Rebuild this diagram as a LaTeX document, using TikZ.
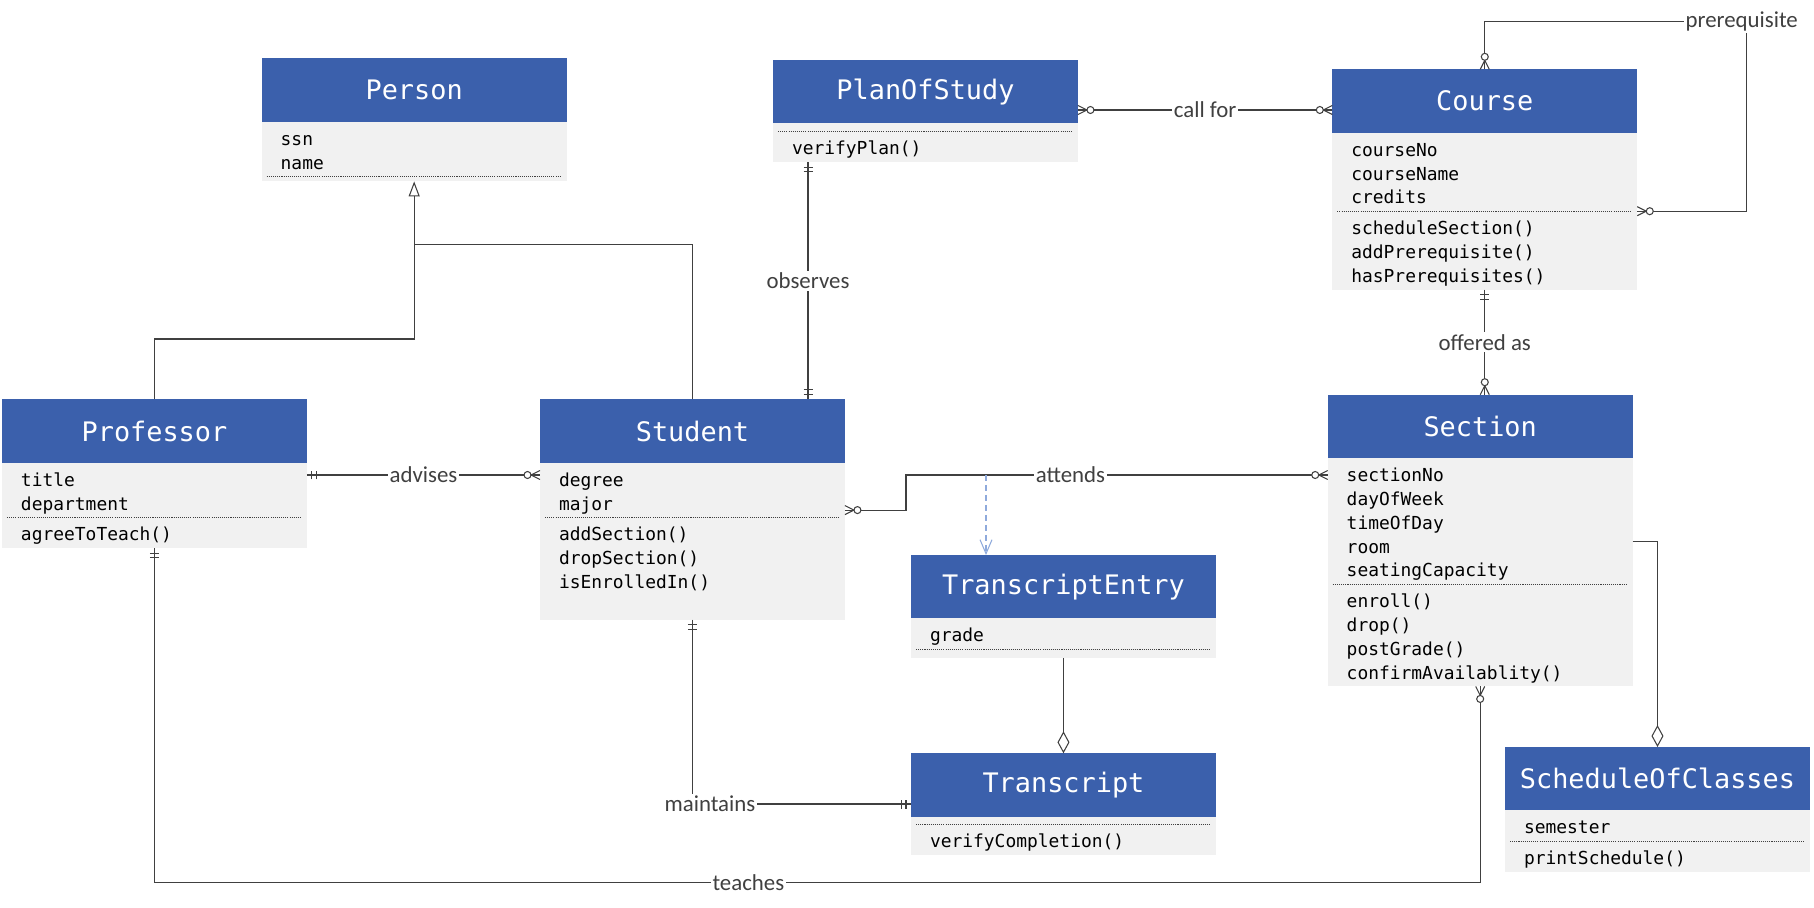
\documentclass[tikz,border=0pt]{standalone}
\usepackage{fontspec}
\usepackage{tikz}
\usetikzlibrary{positioning, arrows.meta, decorations.markings}
\newfontfamily\umlfont{DejaVu Sans Mono}
\newfontfamily\linkfont{Carlito}
\definecolor{headblue}{RGB}{59,96,172}
\definecolor{bodygray}{RGB}{241,241,241}
\definecolor{linkgray}{RGB}{64,64,64}
\definecolor{assocblue}{RGB}{143,170,220}
\newcommand{\bodystrut}{\rule[-2.2pt]{0pt}{13.55pt}}

\begin{document}
\begin{tikzpicture}[
        x=0.02cm, y=-0.02cm,
        every node/.style={outer sep=0pt},
        classhead/.style={anchor=north west, fill=headblue, text=white, minimum width=6.1cm, minimum height=1.27cm, inner sep=0pt, font=\umlfont\fontsize{15.3}{18}\selectfont},
        classpart/.style={fill=bodygray, text width=5.34cm, inner xsep=0.38cm, inner ysep=0.07cm, align=left, font=\umlfont\fontsize{10.2}{13.55}\selectfont, execute at begin node=\bodystrut, execute at end node=\bodystrut},
        classstub/.style={fill=bodygray, minimum width=6.1cm, minimum height=#1, inner sep=0pt},
        divider/.style={black!75, line width=0.5pt, dash pattern=on 0.6pt off 0.6pt},
        conn/.style={draw=linkgray, line width=0.6pt},
        assocline/.style={draw=assocblue, line width=0.6pt, dash pattern=on 0.12cm off 0.08cm},
        verb/.style={fill=white, text=linkgray, inner sep=1pt, font=\linkfont\fontsize{13}{15}\selectfont},
        one start/.style={postaction={decorate, decoration={markings,
            mark=at position 0.1cm with {\draw[conn] (0pt,-0.09cm) -- (0pt,0.09cm);},
            mark=at position 0.19cm with {\draw[conn] (0pt,-0.09cm) -- (0pt,0.09cm);}}}},
        one end/.style={postaction={decorate, decoration={markings,
            mark=at position -0.19cm with {\draw[conn] (0pt,-0.09cm) -- (0pt,0.09cm);},
            mark=at position -0.1cm with {\draw[conn] (0pt,-0.09cm) -- (0pt,0.09cm);}}}},
        many start/.style={postaction={decorate, decoration={markings,
            mark=at position 0.18cm with {\draw[conn] (-0.18cm,0.09cm) -- (0pt,0pt) -- (-0.18cm,-0.09cm);
                \draw[conn, fill=white] (0.07cm,0pt) circle[radius=0.07cm];}}}},
        many end/.style={postaction={decorate, decoration={markings,
            mark=at position -0.18cm with {\draw[conn] (0.18cm,0.09cm) -- (0pt,0pt) -- (0.18cm,-0.09cm);
                \draw[conn, fill=white] (-0.07cm,0pt) circle[radius=0.07cm];}}}}
        ]
        \path[use as bounding box, fill=white] (0,0) rectangle (1814,908);

        % Classes
        \node[classhead] (person) at (261.7,58.3) {Person};
        \node[classpart, below=0pt of person] (person-a) {ssn\\name};
        \node[classstub=0.1cm, below=0pt of person-a] (person-o) {};

        \node[classhead] (plan) at (773,60) {PlanOfStudy};
        \node[classstub=0.16cm, below=0pt of plan] (plan-a) {};
        \node[classpart, below=0pt of plan-a] (plan-o) {verifyPlan()};

        \node[classhead] (course) at (1332.3,69.3) {Course};
        \node[classpart, below=0pt of course] (course-a) {courseNo\\courseName\\credits};
        \node[classpart, below=0pt of course-a] (course-o) {scheduleSection()\\addPrerequisite()\\hasPrerequisites()};

        \node[classhead] (prof) at (2,399.3) {Professor};
        \node[classpart, below=0pt of prof] (prof-a) {title\\department};
        \node[classpart, below=0pt of prof-a] (prof-o) {agreeToTeach()};

        \node[classhead] (student) at (540,399.3) {Student};
        \node[classpart, below=0pt of student] (student-a) {degree\\major};
        \node[classpart, below=0pt of student-a] (student-o) {addSection()\\dropSection()\\isEnrolledIn()\\ \mbox{}};

        \node[classhead] (section) at (1327.7,394.7) {Section};
        \node[classpart, below=0pt of section] (section-a) {sectionNo\\dayOfWeek\\timeOfDay\\room\\seatingCapacity};
        \node[classpart, below=0pt of section-a] (section-o) {enroll()\\drop()\\postGrade()\\confirmAvailablity()};

        \node[classhead] (te) at (911,555) {TranscriptEntry};
        \node[classpart, below=0pt of te] (te-a) {grade};
        \node[classstub=0.17cm, below=0pt of te-a] (te-o) {};

        \node[classhead] (trans) at (911,753.3) {Transcript};
        \node[classstub=0.15cm, below=0pt of trans] (trans-a) {};
        \node[classpart, below=0pt of trans-a] (trans-o) {verifyCompletion()};

        \node[classhead] (sched) at (1505,747) {ScheduleOfClasses};
        \node[classpart, below=0pt of sched] (sched-a) {semester};
        \node[classpart, below=0pt of sched-a] (sched-o) {printSchedule()};

        % Dividers
        \draw[divider] ([xshift=0.1cm]person-a.south west) -- ([xshift=-0.1cm]person-a.south east);
        \draw[divider] ([xshift=0.1cm]plan-a.south west) -- ([xshift=-0.1cm]plan-a.south east);
        \draw[divider] ([xshift=0.1cm]course-a.south west) -- ([xshift=-0.1cm]course-a.south east);
        \draw[divider] ([xshift=0.1cm]prof-a.south west) -- ([xshift=-0.1cm]prof-a.south east);
        \draw[divider] ([xshift=0.1cm]student-a.south west) -- ([xshift=-0.1cm]student-a.south east);
        \draw[divider] ([xshift=0.1cm]section-a.south west) -- ([xshift=-0.1cm]section-a.south east);
        \draw[divider] ([xshift=0.1cm]te-a.south west) -- ([xshift=-0.1cm]te-a.south east);
        \draw[divider] ([xshift=0.1cm]trans-a.south west) -- ([xshift=-0.1cm]trans-a.south east);
        \draw[divider] ([xshift=0.1cm]sched-a.south west) -- ([xshift=-0.1cm]sched-a.south east);

        % Generalization
        \coordinate (isaprof) at (0,339);
        \coordinate (isastud) at (0,244.3);
        \draw[conn, -{Triangle[open, length=0.3cm, width=0.22cm]}] (prof.north) -- (prof.north |- isaprof) -| (person-o.south);
        \draw[conn] (student.north) |- (person-o.south |- isastud);

        % Associations
        \coordinate (obs) at (808,0);
        \draw[conn, one start, one end] (plan-o.south -| obs) -- node[verb]{observes} (student.north -| obs);

        \coordinate (callfor) at (0,110);
        \draw[conn, many start, many end] (plan.east |- callfor) -- node[verb]{call for} (course.west |- callfor);

        \coordinate (prereq) at (1746.7,21.7);
        \draw[conn, many start, many end] (course.north) |- (prereq) node[verb, xshift=-0.1cm]{prerequisite} |- (course-a.south east);

        \draw[conn, one start, many end] (course-o.south) -- node[verb]{offered as} (course-o.south |- section.north);

        \coordinate (adv) at (0,475);
        \draw[conn, one start, many end] (prof-a.east |- adv) -- node[verb]{advises} (student-a.west |- adv);

        \coordinate (attbend) at (906,475);
        \draw[conn, many start, many end] ([yshift=-0.4cm]student-a.east) -| (attbend) -- node[verb, pos=0.39]{attends} (section-a.west |- attbend);

        \coordinate (assoc) at (986,475);
        \draw[assocline, -{Straight Barb[length=0.28cm, width=0.24cm]}] (assoc) -- (assoc |- te.north);

        \coordinate (mnt) at (0,804);
        \draw[conn, one start, one end] (student-o.south) |- node[verb, xshift=0.35cm]{maintains} (trans.west |- mnt);

        \coordinate (tch) at (0,882.5);
        \draw[conn, one start, many end] (prof-o.south) -- (prof-o.south |- tch) -| node[verb, pos=0.224]{teaches} (section-o.south);

        % Aggregations
        \draw[conn, -{Diamond[open, length=0.44cm, width=0.24cm]}] (te-o.south) -- (trans.north);
        \draw[conn, -{Diamond[open, length=0.44cm, width=0.24cm]}] ([yshift=-0.41cm]section-a.east) -| (sched.north);
    \end{tikzpicture}
\end{document}
